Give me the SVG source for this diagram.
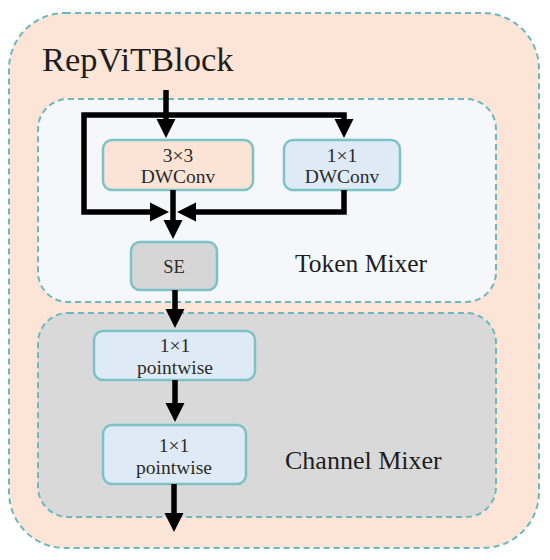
<svg xmlns="http://www.w3.org/2000/svg" width="550" height="560" viewBox="0 0 550 560">
  <defs>
    <marker id="ah" markerUnits="userSpaceOnUse" markerWidth="20" markerHeight="20" refX="5" refY="10" orient="auto" viewBox="0 0 20 20">
      <path d="M0,0.5 L19,10 L0,19.5 Z" fill="#000"/>
    </marker>
    <style>
      .region { stroke: #6cb8c0; stroke-width: 2; stroke-dasharray: 6 4; }
      .node rect { stroke: #7cc3c8; stroke-width: 2.5; }
      .lbl { font-family: "Liberation Serif", "Times New Roman", serif; fill: #2a2a2a; text-anchor: middle; }
      .big { font-family: "Liberation Serif", "Times New Roman", serif; fill: #1e1e1e; }
      .conn path { fill: none; stroke: #000; stroke-width: 5.5; stroke-linejoin: miter; marker-end: url(#ah); }
    </style>
  </defs>
  <rect x="0" y="0" width="550" height="560" fill="#ffffff"/>

  <g id="repvit-block">
    <rect class="region" x="9" y="13" width="530" height="535" rx="56" fill="#fce4d6"/>
    <text class="big" x="42" y="71" font-size="34.5">RepViTBlock</text>
  </g>

  <g id="token-mixer">
    <rect class="region" x="38" y="99" width="458" height="203" rx="30" fill="#f5f7fb"/>
    <text class="big" x="295" y="272" font-size="25.5">Token Mixer</text>
  </g>

  <g id="channel-mixer">
    <rect class="region" x="38" y="313" width="458" height="204" rx="30" fill="#d9d9d9"/>
    <text class="big" x="285" y="469" font-size="26">Channel Mixer</text>
  </g>

  <g id="dwconv3" class="node">
    <rect x="103" y="140" width="150" height="50" rx="9" fill="#fbe3d5"/>
    <text class="lbl" x="178" y="162" font-size="19.5">3×3</text>
    <text class="lbl" x="178" y="183" font-size="19.5">DWConv</text>
  </g>

  <g id="dwconv1" class="node">
    <rect x="284" y="140" width="116" height="50" rx="9" fill="#deebf7"/>
    <text class="lbl" x="342" y="162" font-size="19.5">1×1</text>
    <text class="lbl" x="342" y="183" font-size="19.5">DWConv</text>
  </g>

  <g id="se" class="node">
    <rect x="131" y="242" width="86" height="48" rx="9" fill="#d6d6d6"/>
    <text class="lbl" x="174" y="273" font-size="18.5">SE</text>
  </g>

  <g id="pointwise1" class="node">
    <rect x="94" y="331" width="161" height="49" rx="9" fill="#deebf7"/>
    <text class="lbl" x="175" y="352" font-size="19.5">1×1</text>
    <text class="lbl" x="175" y="374" font-size="19.5">pointwise</text>
  </g>

  <g id="pointwise2" class="node">
    <rect x="103" y="425" width="143" height="59" rx="9" fill="#deebf7"/>
    <text class="lbl" x="174" y="452" font-size="19.5">1×1</text>
    <text class="lbl" x="174" y="474" font-size="19.5">pointwise</text>
  </g>

  <g id="connectors" class="conn">
    <path d="M166,90 V124"/>
    <path d="M166,115 H84 V212 H155"/>
    <path d="M166,115 H344 V124"/>
    <path d="M344,190 V212 H191"/>
    <path d="M173,190 V225"/>
    <path d="M175,290 V314"/>
    <path d="M175,380 V408"/>
    <path d="M174,484 V518"/>
  </g>
</svg>
